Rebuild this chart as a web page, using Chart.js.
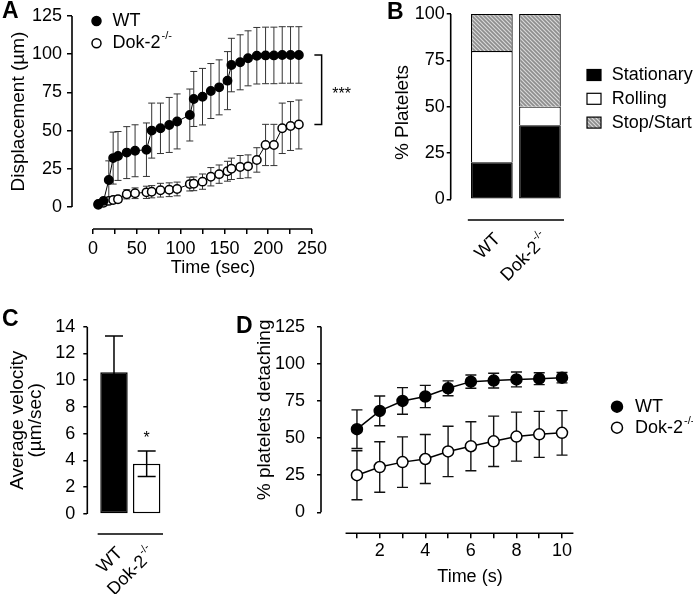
<!DOCTYPE html>
<html>
<head>
<meta charset="utf-8">
<script src="https://cdn.jsdelivr.net/npm/chart.js@4.4.1/dist/chart.umd.min.js"></script>
<style>
  body { margin: 0; background: #fff; }
  #wrap { position: relative; width: 693px; height: 594px; overflow: hidden; font-family: "Liberation Sans", Arial, sans-serif; }
  #wrap canvas { position: absolute; left: 0; top: 0; }
  .letter { position: absolute; font-weight: bold; font-size: 23px; line-height: 23px; color: #000; }
</style>
</head>
<body>
<div id="wrap">
  <canvas id="chartA" width="693" height="594"></canvas>
  <canvas id="chartB" width="693" height="594"></canvas>
  <canvas id="chartC" width="693" height="594"></canvas>
  <canvas id="chartD" width="693" height="594"></canvas>
  <div class="letter" style="left:2px;top:-1px">A</div>
  <div class="letter" style="left:387px;top:0px">B</div>
  <div class="letter" style="left:2px;top:307px">C</div>
  <div class="letter" style="left:236px;top:314px">D</div>
</div>
<script>
// Panel A - displacement (um) over time (sec)
const timeA = [6, 12, 18, 23, 28.5, 38.5, 48, 61, 67, 77, 87, 96, 110.5, 115, 125, 134.5, 144, 153.5, 158, 168, 177, 187, 197, 206.5, 216, 225.5, 235];
const wtDisp = [2, 4, 17.7, 32, 33.4, 35.6, 36.8, 37.5, 50, 51.5, 53.7, 56, 60.2, 70.7, 72.2, 75.9, 78.3, 82.7, 92.9, 94.7, 97.3, 99, 99.2, 99.2, 99.5, 99.5, 99.5];
const wtDispErr = [1, 2, 12.5, 17, 16, 17, 17, 17.5, 18, 16.5, 18, 18, 17, 18, 18.5, 18, 18, 19, 17.5, 18, 18, 18.5, 18.5, 18.5, 18.5, 18.5, 18.5];
const dokDisp = [1.5, 2.7, 4, 4.6, 5.1, 8.3, 9, 9.6, 10, 11, 11.3, 11.8, 15, 15.2, 16.6, 19.8, 21.5, 23.4, 25, 26.2, 26.6, 30.8, 40.6, 40.6, 51.5, 53, 54];
const dokDispErr = [1, 1.5, 1.5, 2, 2, 3, 3.5, 4, 4, 4.5, 4.5, 4.5, 4.5, 4.5, 5, 6, 6, 6.5, 7, 7.5, 7.5, 8, 13.5, 13.5, 16.5, 16, 16];
const yTicksA = [0, 25, 50, 75, 100, 125];
const xTicksA = [0, 25, 50, 75, 100, 125, 150, 175, 200, 225, 250];

// Panel B - % platelets by behaviour
const genotypes = ['WT', 'Dok-2-/-'];
const stationary = [20, 40];
const rolling = [60, 10];
const stopStart = [20, 50];
const yTicksB = [0, 25, 50, 75, 100];

// Panel C - average velocity (um/sec)
const velocity = [10.6, 3.75];
const velocityErr = [2.7, 0.95];
const yTicksC = [0, 2, 4, 6, 8, 10, 12, 14];

// Panel D - % platelets detaching
const timeD = [1, 2, 3, 4, 5, 6, 7, 8, 9, 10];
const wtDetach = [56, 68.3, 75, 78, 83.5, 88, 88.7, 89.5, 90, 90.7];
const wtDetachErr = [13, 10, 9, 7.5, 5, 4.5, 5, 5, 4, 3.5];
const dokDetach = [25, 30.5, 33.8, 35.9, 41, 44.5, 47.8, 51, 52.5, 53.5];
const dokDetachErr = [16.5, 17, 17, 16.5, 17, 16.5, 17, 16.5, 15.5, 15];
const yTicksD = [0, 25, 50, 75, 100, 125];

const FONT = '"Liberation Sans", Arial, sans-serif';
const TXT = 18;      // horizontal text
const YTITLE = 19;   // rotated axis titles
Chart.defaults.font.family = FONT;
Chart.defaults.font.size = TXT;
Chart.defaults.color = '#000';
Chart.defaults.animation = false;
Chart.defaults.responsive = false;
Chart.defaults.events = [];
Chart.defaults.plugins.legend.display = false;
Chart.defaults.plugins.tooltip.enabled = false;

function pts(xs, ys) { return xs.map((x, i) => ({ x: x, y: ys[i] })); }

function axis(min, max, ticks, o) {
  const shown = o.display !== false;
  return {
    type: 'linear', min: min, max: max, offset: false,
    display: shown,
    afterBuildTicks: s => { s.ticks = ticks.map(v => ({ value: v })); },
    afterFit: s => { if (o.width) s.width = o.width; if (o.height) s.height = o.height; },
    border: { display: false },
    grid: { offset: false, drawOnChartArea: false, tickLength: o.tickLen || 5, color: '#000', lineWidth: 1.5 },
    ticks: { display: shown, padding: o.pad || 4, autoSkip: false, maxRotation: 0, callback: o.label || (v => v) }
  };
}

// "Dok-2-/-" -> superscript "-/-"
function drawLabel(ctx, text, x, y, align, size) {
  const m = text.match(/^(.*?)(-\/-)$/);
  const main = m ? m[1] : text, sup = m ? m[2] : '';
  const supSize = Math.round(size * 0.6);
  ctx.font = size + 'px ' + FONT;
  const w1 = ctx.measureText(main).width;
  ctx.font = supSize + 'px ' + FONT;
  const w2 = sup ? ctx.measureText(sup).width + 1 : 0;
  let x0 = x;
  if (align === 'right') x0 = x - w1 - w2;
  if (align === 'center') x0 = x - (w1 + w2) / 2;
  ctx.textAlign = 'left';
  ctx.textBaseline = 'middle';
  ctx.font = size + 'px ' + FONT;
  ctx.fillText(main, x0, y);
  if (sup) {
    ctx.font = supSize + 'px ' + FONT;
    ctx.fillText(sup, x0 + w1 + 1, y - size * 0.38);
  }
}

function drawErrors(chart, o) {
  const ctx = chart.ctx, ys = chart.scales.y;
  chart.data.datasets.forEach((ds, i) => {
    if (!ds.errors) return;
    const meta = chart.getDatasetMeta(i);
    ctx.save();
    ctx.strokeStyle = o.color || '#000';
    ctx.lineWidth = o.width || 1;
    ctx.beginPath();
    meta.data.forEach((el, j) => {
      const raw = ds.data[j];
      const v = typeof raw === 'object' ? raw.y : raw;
      const top = ys.getPixelForValue(v + ds.errors[j]);
      const bot = ys.getPixelForValue(v - ds.errors[j]);
      const half = o.cap / 2;
      ctx.moveTo(el.x, top); ctx.lineTo(el.x, bot);
      ctx.moveTo(el.x - half, top); ctx.lineTo(el.x + half, top);
      ctx.moveTo(el.x - half, bot); ctx.lineTo(el.x + half, bot);
    });
    ctx.stroke();
    ctx.restore();
  });
}

const errorBars = {
  id: 'errorBars',
  beforeDatasetsDraw(chart, args, o) { if (o.behind) drawErrors(chart, o); },
  afterDatasetsDraw(chart, args, o) { if (!o.behind) drawErrors(chart, o); }
};

// axis lines + titles
const frame = {
  id: 'frame',
  afterDraw(chart, args, o) {
    const ctx = chart.ctx, area = chart.chartArea, x = chart.scales.x, y = chart.scales.y;
    ctx.save();
    ctx.strokeStyle = '#000';
    ctx.lineWidth = 1.6;
    ctx.beginPath();
    ctx.moveTo(area.left, y.getPixelForValue(o.y[0]));
    ctx.lineTo(area.left, y.getPixelForValue(o.y[1]));
    ctx.moveTo(x.getPixelForValue(o.x[0]), area.bottom);
    ctx.lineTo(x.getPixelForValue(o.x[1]), area.bottom);
    ctx.stroke();
    ctx.fillStyle = '#000';
    ctx.textAlign = 'center';
    ctx.textBaseline = 'middle';
    ctx.font = YTITLE + 'px ' + FONT;
    const cy = y.getPixelForValue(o.yTitle.at);
    o.yTitle.text.forEach((t, i) => {
      ctx.save();
      ctx.translate(o.yTitle.x[i], cy);
      ctx.rotate(-Math.PI / 2);
      ctx.fillText(t, 0, 0);
      ctx.restore();
    });
    ctx.font = TXT + 'px ' + FONT;
    if (o.xTitle) ctx.fillText(o.xTitle.text, x.getPixelForValue(o.xTitle.at), o.xTitle.y);
    if (o.categories) {
      o.categories.forEach((c, i) => {
        ctx.save();
        ctx.translate(x.getPixelForValue(i) + 6, area.bottom + 16.5);
        ctx.rotate(-Math.PI / 4);
        drawLabel(ctx, c, 0, 0, 'right', TXT);
        ctx.restore();
      });
    }
    ctx.restore();
  }
};

const circleLegend = {
  id: 'circleLegend',
  afterDraw(chart, args, o) {
    const ctx = chart.ctx;
    chart.data.datasets.forEach((ds, i) => {
      const cy = o.y + i * o.gap;
      ctx.save();
      ctx.beginPath();
      ctx.arc(o.x, cy, o.r, 0, Math.PI * 2);
      ctx.fillStyle = ds.pointBackgroundColor;
      ctx.fill();
      ctx.lineWidth = 1.5;
      ctx.strokeStyle = '#000';
      ctx.stroke();
      ctx.fillStyle = '#000';
      drawLabel(ctx, ds.label, o.x + o.textGap, cy, 'left', TXT);
      ctx.restore();
    });
  }
};

const boxLegend = {
  id: 'boxLegend',
  afterDraw(chart, args, o) {
    const ctx = chart.ctx;
    chart.data.datasets.forEach((ds, i) => {
      const cy = o.y + i * o.gap;
      ctx.save();
      ctx.fillStyle = ds.backgroundColor;
      ctx.fillRect(o.x, cy - o.h / 2, o.w, o.h);
      ctx.lineWidth = 1.2;
      ctx.strokeStyle = '#000';
      ctx.strokeRect(o.x, cy - o.h / 2, o.w, o.h);
      ctx.fillStyle = '#000';
      drawLabel(ctx, ds.label, o.x + o.textGap, cy, 'left', TXT);
      ctx.restore();
    });
  }
};

const significance = {
  id: 'significance',
  afterDraw(chart, args, o) {
    const ctx = chart.ctx, x = chart.scales.x, y = chart.scales.y;
    ctx.save();
    ctx.fillStyle = '#000';
    ctx.strokeStyle = '#000';
    ctx.textAlign = 'center';
    ctx.textBaseline = 'middle';
    ctx.font = o.size + 'px ' + FONT;
    if (o.bracket) {
      const top = y.getPixelForValue(o.bracket.top), bot = y.getPixelForValue(o.bracket.bottom);
      const x0 = x.getPixelForValue(o.bracket.from), x1 = x.getPixelForValue(o.bracket.to);
      ctx.lineWidth = 1.5;
      ctx.beginPath();
      ctx.moveTo(x0, top); ctx.lineTo(x1, top); ctx.lineTo(x1, bot); ctx.lineTo(x0, bot);
      ctx.stroke();
      ctx.fillText(o.text, x.getPixelForValue(o.bracket.textAt), (top + bot) / 2 + 5);
    } else {
      const meta = chart.getDatasetMeta(0);
      const el = meta.data[o.index];
      ctx.fillText(o.text, el.x, y.getPixelForValue(o.value) - 12);
    }
    ctx.restore();
  }
};

function makeHatch() {
  const c = document.createElement('canvas');
  c.width = 4; c.height = 4;
  const g = c.getContext('2d');
  for (let i = 0; i < 4; i++) {
    for (let j = 0; j < 4; j++) {
      g.fillStyle = (i - j + 4) % 4 === 0 ? '#8e8e8e' : ((i + j) % 2 ? '#a4a4a4' : '#d6d6d6');
      g.fillRect(i, j, 1, 1);
    }
  }
  return g.createPattern(c, 'repeat');
}

function lineSet(label, xs, ys, errs, fill, r) {
  return {
    label: label, data: pts(xs, ys), errors: errs,
    borderColor: '#000', borderWidth: r > 5 ? 1.5 : 1,
    pointRadius: r, pointBorderWidth: 1.5,
    pointBackgroundColor: fill, pointBorderColor: '#000',
    tension: 0, clip: false
  };
}

// A
new Chart(document.getElementById('chartA'), {
  type: 'line',
  data: {
    datasets: [
      lineSet('WT', timeA, wtDisp, wtDispErr, '#000', 4.2),
      lineSet('Dok-2-/-', timeA, dokDisp, dokDispErr, '#fff', 4.2)
    ]
  },
  options: {
    devicePixelRatio: 1,
    layout: { padding: { left: 12, top: 16, right: 381, bottom: 325 } },
    scales: {
      x: axis(-24, 250, xTicksA, { height: 40, tickLen: 5, pad: 4, label: v => (v % 50 === 0 ? String(v) : '') }),
      y: axis(-14.4, 125, yTicksA, { width: 60, tickLen: 5, pad: 5 })
    },
    plugins: {
      errorBars: { behind: true, cap: 7, width: 1, color: '#333' },
      frame: { x: [0, 250], y: [0, 125], yTitle: { text: ['Displacement (\u00b5m)'], x: [19], at: 62.5 }, xTitle: { text: 'Time (sec)', at: 137, y: 268 } },
      circleLegend: { x: 96.5, y: 21, gap: 22.3, r: 4.5, textGap: 16 },
      significance: { text: '***', size: 16, bracket: { top: wtDisp[wtDisp.length - 1], bottom: dokDisp[dokDisp.length - 1], from: 252.7, to: 261, textAt: 283.7 } }
    }
  },
  plugins: [errorBars, frame, circleLegend, significance]
});

// B - upper segments skip their bottom edge so boundaries stay single lines
const hatch = makeHatch();
const noBottom = { top: 1.2, left: 1.2, right: 1.2, bottom: 0 };
new Chart(document.getElementById('chartB'), {
  type: 'bar',
  data: {
    datasets: [
      { label: 'Stationary', data: pts([0, 1], stationary), backgroundColor: '#000', borderWidth: 1.2 },
      { label: 'Rolling', data: pts([0, 1], rolling), backgroundColor: '#fff', borderWidth: noBottom },
      { label: 'Stop/Start', data: pts([0, 1], stopStart), backgroundColor: hatch, borderWidth: noBottom }
    ]
  },
  options: {
    devicePixelRatio: 1,
    layout: { padding: { left: 400.7, top: 14, right: 129, bottom: 374 } },
    datasets: { bar: { borderColor: '#000', borderSkipped: false, categoryPercentage: 1, barPercentage: 0.867 } },
    scales: {
      x: Object.assign(axis(-0.856, 1.5, [0, 1], { display: false }), { stacked: true }),
      y: Object.assign(axis(-11.2, 100, yTicksB, { width: 50, tickLen: 4, pad: 2 }), { stacked: true })
    },
    plugins: {
      frame: { x: [-0.5, 1.5], y: [0, 100], yTitle: { text: ['% Platelets'], x: [403], at: 46.8 }, categories: genotypes },
      boxLegend: { x: 587, y: 75, gap: 23.8, w: 14, h: 11, textGap: 24.7 }
    }
  },
  plugins: [frame, boxLegend]
});

// C
new Chart(document.getElementById('chartC'), {
  type: 'bar',
  data: {
    datasets: [
      { label: 'Average velocity', data: pts([0, 1], velocity), errors: velocityErr, backgroundColor: ['#000', '#fff'] }
    ]
  },
  options: {
    devicePixelRatio: 1,
    layout: { padding: { left: 47.3, top: 326.7, right: 530, bottom: 60 } },
    datasets: { bar: { borderColor: '#000', borderWidth: 1.5, borderSkipped: false, categoryPercentage: 1, barPercentage: 0.84 } },
    scales: {
      x: axis(-0.817, 1.5, [0, 1], { display: false }),
      y: axis(-1.5, 14, yTicksC, { width: 40, tickLen: 4, pad: 8 })
    },
    plugins: {
      errorBars: { behind: false, cap: 18, width: 1.5, color: '#000' },
      frame: { x: [-0.5, 1.5], y: [0, 14], yTitle: { text: ['Average velocity', '(\u00b5m/sec)'], x: [17.5, 36], at: 7 }, categories: genotypes },
      significance: { text: '*', size: 16, index: 1, value: velocity[1] + velocityErr[1] }
    }
  },
  plugins: [errorBars, frame, significance]
});

// D
new Chart(document.getElementById('chartD'), {
  type: 'line',
  data: {
    datasets: [
      lineSet('WT', timeD, wtDetach, wtDetachErr, '#000', 5.5),
      lineSet('Dok-2-/-', timeD, dokDetach, dokDetachErr, '#fff', 5.5)
    ]
  },
  options: {
    devicePixelRatio: 1,
    layout: { padding: { left: 271, top: 326.7, right: 119.6, bottom: 15.7 } },
    scales: {
      x: axis(-0.578, 10.5, timeD, { height: 45, tickLen: 5, pad: 2, label: v => (v % 2 === 0 ? String(v) : '') }),
      y: axis(-14.14, 125, yTicksD, { width: 50, tickLen: 4, pad: 12 })
    },
    plugins: {
      errorBars: { behind: true, cap: 11, width: 1.4, color: '#111' },
      frame: { x: [0.5, 10.5], y: [0, 125], yTitle: { text: ['% platelets detaching'], x: [265], at: 69 }, xTitle: { text: 'Time (s)', at: 5.96, y: 577 } },
      circleLegend: { x: 617, y: 406.7, gap: 21, r: 5.5, textGap: 18 }
    }
  },
  plugins: [errorBars, frame, circleLegend]
});
</script>
</body>
</html>
